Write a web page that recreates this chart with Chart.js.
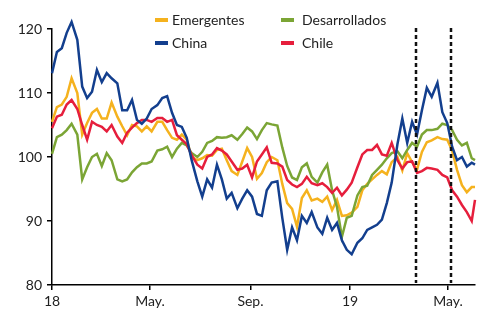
<!DOCTYPE html>
<html>
<head>
<meta charset="utf-8">
<script src="https://cdn.jsdelivr.net/npm/chart.js@4"></script>
<style>
  html, body { margin: 0; padding: 0; background: #fff; }
  #wrap { position: relative; width: 477px; height: 313px; }
  .lg { position: absolute; font-family: Lato, sans-serif; font-size: 14px; color: #222; line-height: 16px; }
  .mk { position: absolute; width: 13px; height: 4px; }
</style>
</head>
<body>
<div id="wrap">
  <canvas id="chart" width="477" height="313"></canvas>
  <div class="mk" style="left:155px;top:18px;background:#F5B21E"></div>
  <div class="lg" style="left:172px;top:12px">Emergentes</div>
  <div class="mk" style="left:281px;top:18px;background:#7BA535"></div>
  <div class="lg" style="left:302px;top:12px">Desarrollados</div>
  <div class="mk" style="left:155px;top:41px;background:#133F8E"></div>
  <div class="lg" style="left:172px;top:35px">China</div>
  <div class="mk" style="left:281px;top:41px;background:#E61E3C"></div>
  <div class="lg" style="left:302px;top:35px">Chile</div>
</div>
<script>
// días desde el 1 de enero de 2018
const days = [0,6,12,18,24,31,37,43,49,55,61,67,73,80,86,92,98,104,110,116,
  122,129,135,141,147,153,159,165,171,178,184,190,196,202,208,214,220,227,233,239,
  245,251,257,263,269,276,282,288,294,300,306,312,318,325,331,337,343,349,355,361,
  367,374,380,386,392,398,404,410,416,423,429,435,441,447,453,459,465,472,478,484,
  490,496,502,508,514,518];

const emergentes = [105.5,107.8,108.2,109.4,112.3,110,103.5,105.3,106.9,107.5,
  106,106,108.5,106.3,104.8,103.4,105,104.8,104,104.8,
  104,105.5,105.5,104.2,103,102.7,103.5,102.7,100,99.5,
  99.8,100.3,100.2,101.1,101.3,99.5,97.8,97.2,99.3,101.4,
  100,96.6,97.5,99.2,100,99.5,95.8,92.8,91.9,89.1,
  93.6,94.8,93.2,93.5,93,93.8,91.7,93.3,90.8,90.9,
  91.3,92.2,94.8,95.8,96.5,97.2,97.8,97.3,99.2,100,
  97.9,100.6,99.2,98,100.8,102.3,102.6,103.1,102.8,102.7,
  101,98,95.6,94.5,95.3,95.3];

const desarrollados = [100.5,103.1,103.5,104.2,105.2,103.5,96.5,98.4,100,100.5,
  98.6,100.6,99.5,96.5,96.2,96.5,97.6,98.4,99,99,
  99.3,101,101.2,101.6,100,101.3,102.2,101.8,100.6,100,
  100.8,102.2,102.5,103.1,103,103.1,103.4,102.7,103.6,104.6,
  104,102.8,104.2,105.3,105.1,104.9,101.5,98.6,96.8,96.4,
  98.4,99,96.9,96,97.6,98.8,94.8,92.2,87.5,90.5,
  90.8,94,95.3,95.5,97.2,98,98.8,99.8,100.6,100.9,
  99.8,101.1,102.2,101.6,103.5,104.2,104.2,104.4,105.2,105,
  104.2,102.7,101.8,102.2,99.8,99.5];

const china = [113.1,116.4,117.0,119.4,121.1,118.3,111,109.2,110.2,113.6,
  111.7,113.1,112.3,111.5,107.3,107.3,108.9,105.8,105.2,106,
  107.5,108.1,109.2,109.5,106.9,105,104.7,103,99.5,96.2,
  93.8,96.5,95.2,98.8,96.5,93.5,94.4,92,93.5,94.8,
  93.8,91.1,90.8,94.8,96,96.2,90.5,85.5,89,87.0,
  90.8,89.7,91.4,89,88,90.5,88.6,89.7,87,85.5,
  84.8,86.6,87.3,88.6,89,89.4,90.2,92.8,96,102,
  106,102.2,105.5,103.5,107.3,110.8,109.4,111.6,107,105.3,
  101.6,99.5,100,98.5,99.1,98.8];

const chile = [104.5,106.3,106.6,108.2,108.9,107.5,105,102.7,105.5,105,
  104.7,104,105,103.2,102.2,103.8,104.6,105.3,105.8,105.8,
  105.5,106.1,106.1,105.5,105.8,103.4,102.7,102,100.3,98.8,
  98.2,100,100.4,101.4,101,100.4,99.3,98,98.2,98.8,
  96.8,99.3,100.4,101.5,99.1,99,98.5,96.4,95.7,95.3,
  95.8,96.9,95.9,95.6,95.9,95.3,94.4,95.2,94,94.9,
  96,98.4,100.4,101.1,101.1,101.9,100.4,100.2,102.2,99.5,
  98.2,99.2,99.3,97.5,97.8,98.3,98.2,98,97.2,96.8,
  94.8,93.8,92.5,91.4,90,93.3];

const tickDays = [0, 120, 243, 365, 485];
const tickLabels = ['18', 'May.', 'Sep.', '19', 'May.'];
const yTicks = [80, 90, 100, 110, 120];
const eventDays = [446, 489];

const FONT = 'Lato, sans-serif';

function serie(label, values, color, order) {
    return {
        label: label,
        data: values.map((v, i) => ({ x: days[i], y: v })),
        borderColor: color,
        borderWidth: 2.5,
        pointRadius: 0,
        tension: 0,
        clip: false,
        order: order
    };
}

// líneas verticales punteadas
const eventLines = {
    id: 'eventLines',
    afterDatasetsDraw(chart) {
        const { ctx, chartArea, scales: { x } } = chart;
        ctx.save();
        ctx.strokeStyle = '#111';
        ctx.lineWidth = 2.5;
        ctx.setLineDash([4, 3]);
        eventDays.forEach(d => {
            const px = Math.round(x.getPixelForValue(d));
            ctx.beginPath();
            ctx.moveTo(px, chartArea.top - 1);
            ctx.lineTo(px, chartArea.bottom - 2);
            ctx.stroke();
        });
        ctx.restore();
    }
};

const ctx = document.getElementById('chart').getContext('2d');
new Chart(ctx, {
    type: 'line',
    data: {
        datasets: [
            serie('Emergentes', emergentes, '#F5B21E', 4),
            serie('Desarrollados', desarrollados, '#7BA535', 3),
            serie('China', china, '#133F8E', 1),
            serie('Chile', chile, '#E61E3C', 2)
        ]
    },
    options: {
        responsive: false,
        animation: false,
        devicePixelRatio: 1,
        layout: { padding: { top: 29, right: 2, left: 0, bottom: 0 } },
        plugins: {
            legend: { display: false },
            tooltip: { enabled: false }
        },
        scales: {
            x: {
                type: 'linear',
                min: 0,
                max: 518,
                afterBuildTicks: s => { s.ticks = tickDays.map(v => ({ value: v })); },
                afterFit: s => { s.height = 28; },
                ticks: {
                    autoSkip: false,
                    maxRotation: 0,
                    padding: 3,
                    color: '#222',
                    font: { family: FONT, size: 14 },
                    callback: (v, i) => tickLabels[i]
                },
                grid: { drawOnChartArea: false, tickLength: 5, color: '#000', lineWidth: 1.5 },
                border: { color: '#000', width: 1.5 }
            },
            y: {
                min: 80,
                max: 120,
                afterBuildTicks: s => { s.ticks = yTicks.map(v => ({ value: v })); },
                afterFit: s => { s.width = 52; },
                ticks: {
                    padding: 5,
                    color: '#222',
                    font: { family: FONT, size: 14 }
                },
                grid: { drawOnChartArea: false, tickLength: 5, color: '#000', lineWidth: 1.5 },
                border: { color: '#000', width: 1.5 }
            }
        }
    },
    plugins: [eventLines]
});
</script>
</body>
</html>
